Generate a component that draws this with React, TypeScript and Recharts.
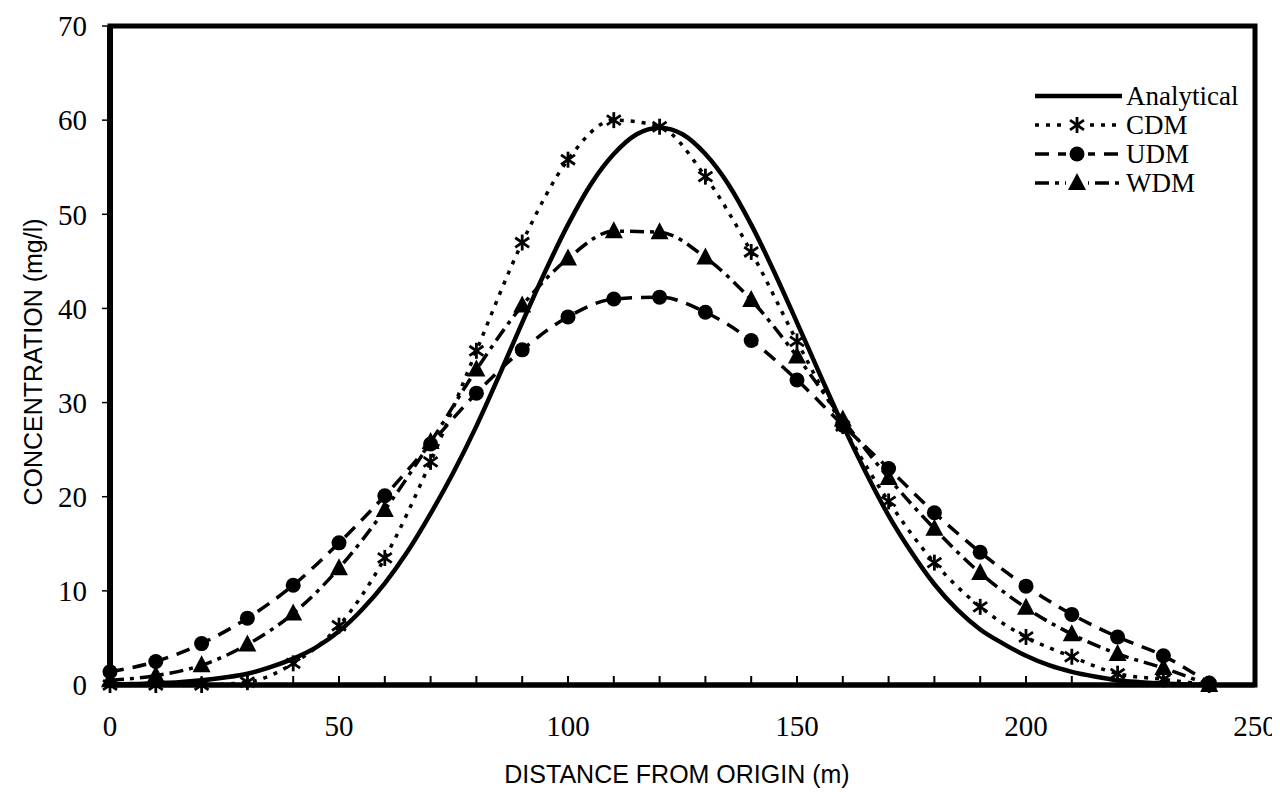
import React from 'react';
import { LineChart, Line, XAxis, YAxis, ReferenceArea } from 'recharts';

// model results, sampled every 10 m
const distance = [0, 10, 20, 30, 40, 50, 60, 70, 80, 90, 100, 110, 120, 130, 140, 150, 160, 170, 180, 190, 200, 210, 220, 230, 240];
const cdm = [0, 0, 0, 0.3, 2.3, 6.3, 13.5, 23.7, 35.5, 47, 55.8, 60, 59.3, 54, 46, 36.5, 27.5, 19.5, 13, 8.3, 5.1, 3, 1.2, 0.6, 0];
const udm = [1.4, 2.5, 4.4, 7.1, 10.6, 15.1, 20.1, 25.6, 31, 35.6, 39.1, 41, 41.2, 39.6, 36.6, 32.4, 27.6, 23, 18.3, 14.1, 10.5, 7.5, 5.1, 3.1, 0.2];
const wdm = [0.5, 1.0, 2.1, 4.3, 7.6, 12.4, 18.6, 25.8, 33.5, 40.3, 45.3, 48.2, 48.1, 45.4, 40.9, 34.9, 28.2, 22, 16.6, 11.9, 8.2, 5.4, 3.3, 1.8, 0];

// analytical solution, sampled every 5 m
const analyticalX = [0, 5, 10, 15, 20, 25, 30, 35, 40, 45, 50, 55, 60, 65, 70, 75, 80, 85, 90, 95, 100, 105, 110, 115, 120, 125, 130, 135, 140, 145, 150, 155, 160, 165, 170, 175, 180, 185, 190, 195, 200, 205, 210, 215, 220, 225, 230, 235, 240];
const analytical = [0.05, 0.1, 0.2, 0.3, 0.5, 0.8, 1.2, 1.9, 2.8, 4.0, 5.7, 8.0, 10.8, 14.2, 18.2, 22.6, 27.5, 32.9, 38.5, 43.9, 48.9, 53.2, 56.4, 58.5, 59.2, 58.5, 56.4, 53.2, 48.9, 43.9, 38.5, 33.0, 27.6, 22.6, 18.0, 14.1, 10.7, 8.0, 5.9, 4.4, 3.1, 2.1, 1.4, 0.9, 0.5, 0.3, 0.15, 0.05, 0];

const xTicks = [0, 10, 20, 30, 40, 50, 60, 70, 80, 90, 100, 110, 120, 130, 140, 150, 160, 170, 180, 190, 200, 210, 220, 230, 240, 250];
const yTicks = [0, 10, 20, 30, 40, 50, 60, 70];

const modelData = distance.map((x, i) => ({ x, cdm: cdm[i], udm: udm[i], wdm: wdm[i] }));
const analyticalData = analyticalX.map((x, i) => ({ x, analytical: analytical[i] }));

const serif = '"Liberation Serif", "Times New Roman", serif';
const sans = '"Liberation Sans", Arial, sans-serif';

const Asterisk = ({ cx, cy, s = 8 }: any) => (
  <g stroke="#000" strokeWidth={2.8}>
    <line x1={cx} y1={cy - s} x2={cx} y2={cy + s} />
    <line x1={cx - s * 0.87} y1={cy - s * 0.6} x2={cx + s * 0.87} y2={cy + s * 0.6} />
    <line x1={cx - s * 0.87} y1={cy + s * 0.6} x2={cx + s * 0.87} y2={cy - s * 0.6} />
  </g>
);
const Ball = ({ cx, cy }: any) => <circle cx={cx} cy={cy} r={7.5} fill="#000" />;
const Tri = ({ cx, cy }: any) => (
  <polygon points={`${cx},${cy - 10} ${cx - 9},${cy + 7} ${cx + 9},${cy + 7}`} fill="#000" />
);

const dotOf = (Shape: any) => (props: any) => {
  const { cx, cy, index } = props;
  if (cx == null || cy == null) return <g key={`d-${index}`} />;
  return <g key={`d-${index}`}><Shape cx={cx} cy={cy} /></g>;
};

const XTick = (props: any) => {
  const { x, y, payload } = props;
  return (
    <g>
      <line x1={x} x2={x} y1={y} y2={y - 9} stroke="#000" strokeWidth={2} />
      {payload.value % 50 === 0 && (
        <text x={x} y={y + 51} textAnchor="middle" fontFamily={serif} fontSize={29} fill="#000">
          {payload.value}
        </text>
      )}
    </g>
  );
};

const legendRows = [
  { name: 'Analytical', dash: undefined, width: 4.5, marker: null },
  { name: 'CDM', dash: '4 7', width: 3.5, marker: Asterisk },
  { name: 'UDM', dash: '14 9', width: 3.5, marker: Ball },
  { name: 'WDM', dash: '14 6 4 6', width: 3.5, marker: Tri },
];

const LegendBox = () => (
  <svg width={230} height={125}>
    {legendRows.map((r, i) => {
      const y = 16 + i * 29;
      const M = r.marker as any;
      return (
        <g key={r.name}>
          <line x1={10} x2={97} y1={y} y2={y} stroke="#000" strokeWidth={r.width} strokeDasharray={r.dash} />
          {M && (
            <g>
              <rect x={41} y={y - 11} width={22} height={22} fill="#fff" />
              <M cx={52} cy={y} />
            </g>
          )}
          <text x={101} y={y + 9} fontFamily={serif} fontSize={27} fill="#000">{r.name}</text>
        </g>
      );
    })}
  </svg>
);

const App = () => {
  return (
    <div style={{ position: 'relative', width: 1272, height: 781 }}>
      <LineChart width={1272} height={781} margin={{ top: 18, right: 25, left: 0, bottom: 0 }}>
        <XAxis
          type="number"
          dataKey="x"
          domain={[0, 250]}
          ticks={xTicks}
          interval={0}
          height={104}
          tickSize={0}
          tickMargin={0}
          tickLine={false}
          tick={<XTick />}
          axisLine={{ stroke: '#000', strokeWidth: 5 }}
          allowDuplicatedCategory={false}
          label={{
            content: () => (
              <text x={669} y={775} textAnchor="middle" fontFamily={sans} fontSize={25} fill="#000">
                DISTANCE FROM ORIGIN (m)
              </text>
            ),
          }}
        />
        <YAxis
          type="number"
          domain={[0, 70]}
          ticks={yTicks}
          width={102}
          tickSize={8}
          tickMargin={15}
          tickLine={{ stroke: '#000', strokeWidth: 1.5 }}
          axisLine={{ stroke: '#000', strokeWidth: 6 }}
          tick={{ fill: '#000', fontFamily: serif, fontSize: 29 }}
          label={{
            content: () => (
              <text
                x={25}
                y={354}
                textAnchor="middle"
                fontFamily={sans}
                fontSize={25}
                fill="#000"
                transform="rotate(-90 25 354)"
                dy={9}
              >
                CONCENTRATION (mg/l)
              </text>
            ),
          }}
        />
        <ReferenceArea
          x1={0}
          x2={250}
          y1={0}
          y2={70}
          fill="none"
          stroke="#000"
          strokeWidth={5}
          ifOverflow="visible"
        />
        <Line
          data={analyticalData}
          dataKey="analytical"
          name="Analytical"
          type="monotone"
          stroke="#000"
          strokeWidth={4.5}
          dot={false}
          isAnimationActive={false}
        />
        <Line
          data={modelData}
          dataKey="cdm"
          name="CDM"
          type="monotone"
          stroke="#000"
          strokeWidth={3.5}
          strokeDasharray="4 7"
          dot={dotOf(Asterisk)}
          isAnimationActive={false}
        />
        <Line
          data={modelData}
          dataKey="udm"
          name="UDM"
          type="monotone"
          stroke="#000"
          strokeWidth={3.5}
          strokeDasharray="14 9"
          dot={dotOf(Ball)}
          isAnimationActive={false}
        />
        <Line
          data={modelData}
          dataKey="wdm"
          name="WDM"
          type="monotone"
          stroke="#000"
          strokeWidth={3.5}
          strokeDasharray="14 6 4 6"
          dot={dotOf(Tri)}
          isAnimationActive={false}
        />
      </LineChart>
      <div style={{ position: 'absolute', left: 1017, top: 72 }}>
        <LegendBox />
      </div>
    </div>
  );
};

export default App;
